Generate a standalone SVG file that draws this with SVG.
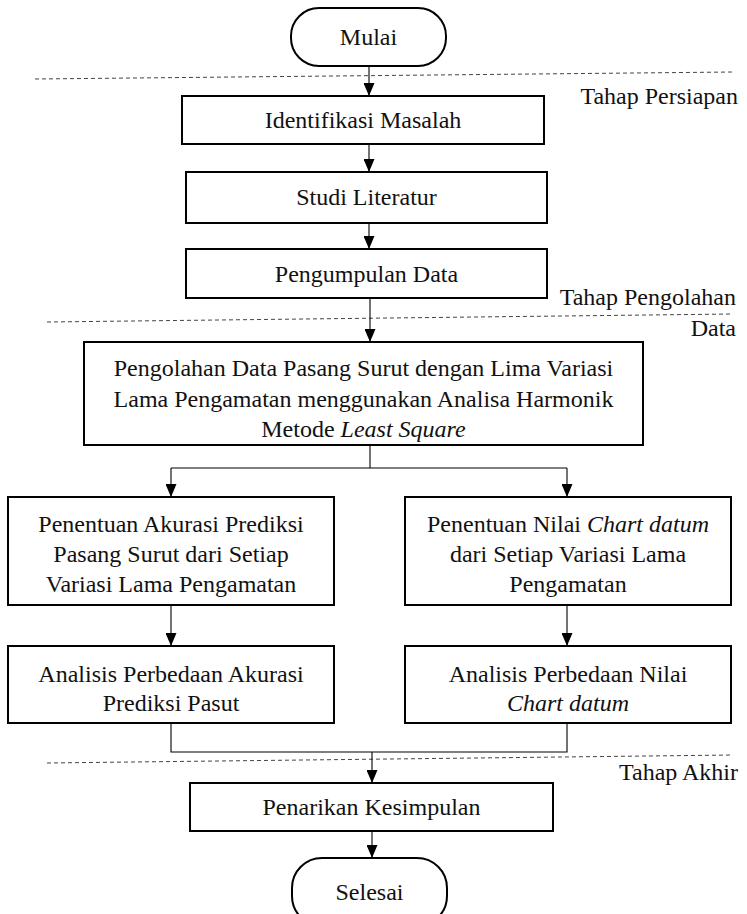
<svg xmlns="http://www.w3.org/2000/svg" width="747" height="914" viewBox="0 0 747 914">
<defs>
<style>
.box{fill:#fff;stroke:#000;stroke-width:2}
.ln{fill:none;stroke:#000;stroke-width:1.1}
.dash{fill:none;stroke:#444;stroke-width:1;stroke-dasharray:4 3}
.c{text-anchor:middle}
.r{text-anchor:end}
.i{font-style:italic}
</style>
<marker id="ah" markerWidth="13" markerHeight="11" refX="13" refY="5.5" orient="auto" markerUnits="userSpaceOnUse" viewBox="0 0 13 11">
<path d="M0,0 L13,5.5 L0,11 Z" fill="#000"/>
</marker>
</defs>
<rect width="747" height="914" fill="#fff"/>
<g font-family="'Liberation Serif', 'Times New Roman', 'DejaVu Serif', 'Noto Serif', serif" font-size="24" fill="#111">
<g id="phases">
<line class="dash" x1="35" y1="79" x2="733" y2="72"/>
<line class="dash" x1="47" y1="322" x2="733" y2="314"/>
<line class="dash" x1="47" y1="763" x2="733" y2="755"/>
<text class="r" x="738" y="104">Tahap Persiapan</text>
<text class="r" x="736" y="305">Tahap Pengolahan</text>
<text class="r" x="736" y="336">Data</text>
<text class="r" x="738" y="780">Tahap Akhir</text>
</g>
<g id="connectors">
<path class="ln" d="M369,66 V96" marker-end="url(#ah)"/>
<path class="ln" d="M369,144 V172" marker-end="url(#ah)"/>
<path class="ln" d="M369,223 V249" marker-end="url(#ah)"/>
<path class="ln" d="M370,298 V342" marker-end="url(#ah)"/>
<path class="ln" d="M370,445 V468"/>
<path class="ln" d="M171,468 H567"/>
<path class="ln" d="M171,468 V497" marker-end="url(#ah)"/>
<path class="ln" d="M567,468 V497" marker-end="url(#ah)"/>
<path class="ln" d="M171,605 V646" marker-end="url(#ah)"/>
<path class="ln" d="M567,605 V646" marker-end="url(#ah)"/>
<path class="ln" d="M171,723 V752 H567 V723"/>
<path class="ln" d="M372,752 V783" marker-end="url(#ah)"/>
<path class="ln" d="M372,831 V858" marker-end="url(#ah)"/>
</g>
<g id="mulai">
<rect class="box" x="291" y="8" width="155" height="58" rx="28" ry="28"/>
<text class="c" x="368.5" y="45">Mulai</text>
</g>
<g id="identifikasi">
<rect class="box" x="182" y="96" width="362" height="48"/>
<text class="c" x="363" y="128">Identifikasi Masalah</text>
</g>
<g id="studi">
<rect class="box" x="186" y="172" width="361" height="51"/>
<text class="c" x="366.5" y="205">Studi Literatur</text>
</g>
<g id="pengumpulan">
<rect class="box" x="186" y="249" width="361" height="49"/>
<text class="c" x="366.5" y="282">Pengumpulan Data</text>
</g>
<g id="pengolahan">
<rect class="box" x="84" y="342" width="559" height="103"/>
<text class="c" x="363.5" y="376">Pengolahan Data Pasang Surut dengan Lima Variasi</text>
<text class="c" x="363.5" y="407">Lama Pengamatan menggunakan Analisa Harmonik</text>
<text class="c" x="363.5" y="437">Metode <tspan class="i">Least Square</tspan></text>
</g>
<g id="akurasi">
<rect class="box" x="8" y="497" width="326" height="108"/>
<text class="c" x="171" y="532">Penentuan Akurasi Prediksi</text>
<text class="c" x="171" y="562">Pasang Surut dari Setiap</text>
<text class="c" x="171" y="592">Variasi Lama Pengamatan</text>
</g>
<g id="chartdatum">
<rect class="box" x="405" y="497" width="326" height="108"/>
<text class="c" x="568" y="532">Penentuan Nilai <tspan class="i">Chart datum</tspan></text>
<text class="c" x="568" y="562">dari Setiap Variasi Lama</text>
<text class="c" x="568" y="592">Pengamatan</text>
</g>
<g id="analisis-akurasi">
<rect class="box" x="8" y="646" width="326" height="77"/>
<text class="c" x="171" y="682">Analisis Perbedaan Akurasi</text>
<text class="c" x="171" y="711">Prediksi Pasut</text>
</g>
<g id="analisis-chart">
<rect class="box" x="405" y="646" width="326" height="77"/>
<text class="c" x="568" y="682">Analisis Perbedaan Nilai</text>
<text class="c i" x="568" y="711">Chart datum</text>
</g>
<g id="penarikan">
<rect class="box" x="190" y="783" width="363" height="48"/>
<text class="c" x="371.5" y="815">Penarikan Kesimpulan</text>
</g>
<g id="selesai">
<rect class="box" x="292" y="858" width="155" height="68" rx="30" ry="30"/>
<text class="c" x="369.5" y="900">Selesai</text>
</g>
</g>
</svg>
